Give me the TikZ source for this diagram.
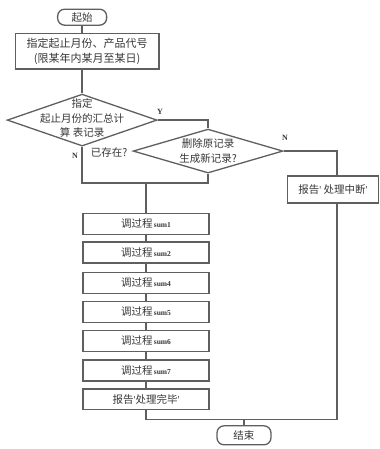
\documentclass[tikz,border=0pt]{standalone}
\usepackage{fontspec}
\setmainfont{Noto Sans CJK SC}
\newfontfamily\latinserif{Liberation Serif}
\usetikzlibrary{shapes.geometric,calc}
\definecolor{ln}{RGB}{95,95,95}
\definecolor{tx}{RGB}{55,55,55}
\newcommand{\sumtxt}[1]{{\latinserif\fontsize{7.5}{8}\selectfont\bfseries\,#1}}
\newcommand{\qt}{{\latinserif'}}
\begin{document}
\begin{tikzpicture}[x=1pt,y=-1pt,
  every node/.style={text=tx},
  every path/.style={draw=ln},
  conn/.style={draw=ln,line width=1.3pt},
  term/.style={draw=ln,line width=1.3pt,rounded corners=7pt,inner sep=0pt,font=\fontsize{10.5}{12}\selectfont},
  procbox/.style={draw=ln,line width=1.3pt,inner sep=0pt,font=\fontsize{10.5}{12}\selectfont},
  decbox/.style={draw=ln,line width=1.3pt,diamond,inner sep=0pt},
  lbl/.style={font=\latinserif\fontsize{8}{9}\selectfont\bfseries}
]
\useasboundingbox (0,0) rectangle (379,449);
\fill[white] (0,0) rectangle (379,449);

\node[term,minimum width=49pt,minimum height=16pt] (start) at (82,17) {起始};
\node[procbox,minimum width=144pt,minimum height=36pt,align=center,font=\fontsize{11}{15}\selectfont] (b1) at (87,51)
  {指定起止月份、产品代号\\(限某年内某月至某日)};
\node[decbox,minimum width=150pt,minimum height=52pt] (d1) at (82,120) {};
\node[align=center,font=\fontsize{10.5}{14.5}\selectfont] (d1t) at (82,118) {指定\\起止月份的汇总计\\算 表记录};
\node[decbox,minimum width=150pt,minimum height=44pt] (d2) at (208,151) {};
\node[align=center,font=\fontsize{10.5}{14.5}\selectfont] (d2t) at (208,151) {删除原记录\\生成新记录?};
\node[procbox,minimum width=91pt,minimum height=27pt] (r) at (333,189.5) {报告\qt\ 处理中断\qt};

\node[procbox,minimum width=126pt,minimum height=21pt] (s1) at (146,224) {调过程\sumtxt{sum1}};
\node[procbox,minimum width=126pt,minimum height=21pt] (s2) at (146,252.5) {调过程\sumtxt{sum2}};
\node[procbox,minimum width=126pt,minimum height=21pt] (s4) at (146,283) {调过程\sumtxt{sum4}};
\node[procbox,minimum width=126pt,minimum height=21pt] (s5) at (146,312) {调过程\sumtxt{sum5}};
\node[procbox,minimum width=126pt,minimum height=21pt] (s6) at (146,341) {调过程\sumtxt{sum6}};
\node[procbox,minimum width=126pt,minimum height=21pt] (s7) at (146,370.5) {调过程\sumtxt{sum7}};
\node[procbox,minimum width=126pt,minimum height=21pt] (rep) at (146,399.5) {报告\qt 处理完毕\qt};
\node[term,minimum width=54pt,minimum height=19pt] (end) at (244,435.5) {结束};

\node[lbl] (ly) at (160,112) {Y};
\node[lbl] (ln1) at (75,156) {N};
\node[font=\fontsize{10.5}{12}\selectfont] (ex) at (109,152) {已存在?};
\node[lbl] (ln2) at (285,138) {N};

\coordinate (jl) at (82,183);
\coordinate (jm) at (146,183);
\coordinate (jr) at (208,183);
\coordinate (rx) at (337,150);
\coordinate (bl) at (146,420);
\coordinate (bm) at (244,420);
\coordinate (br) at (337,420);

\draw[conn] (start.south) -- (start.south |- b1.north);
\draw[conn] (start.south |- b1.south) -- (d1.north);
\draw[conn] (d1.east) -| (d2.north);
\draw[conn] (d1.south) -- (jl) -- (jr) -- (d2.south);
\draw[conn] (jm) -- (s1.north);
\draw[conn] (d2.east) -| (rx |- r.north);
\draw[conn] (s1.south) -- (s2.north);
\draw[conn] (s2.south) -- (s4.north);
\draw[conn] (s4.south) -- (s5.north);
\draw[conn] (s5.south) -- (s6.north);
\draw[conn] (s6.south) -- (s7.north);
\draw[conn] (s7.south) -- (rep.north);
\draw[conn] (rep.south) -- (bl) -- (br) -- (rx |- r.south);
\draw[conn] (bm) -- (end.north);
\end{tikzpicture}
\end{document}
